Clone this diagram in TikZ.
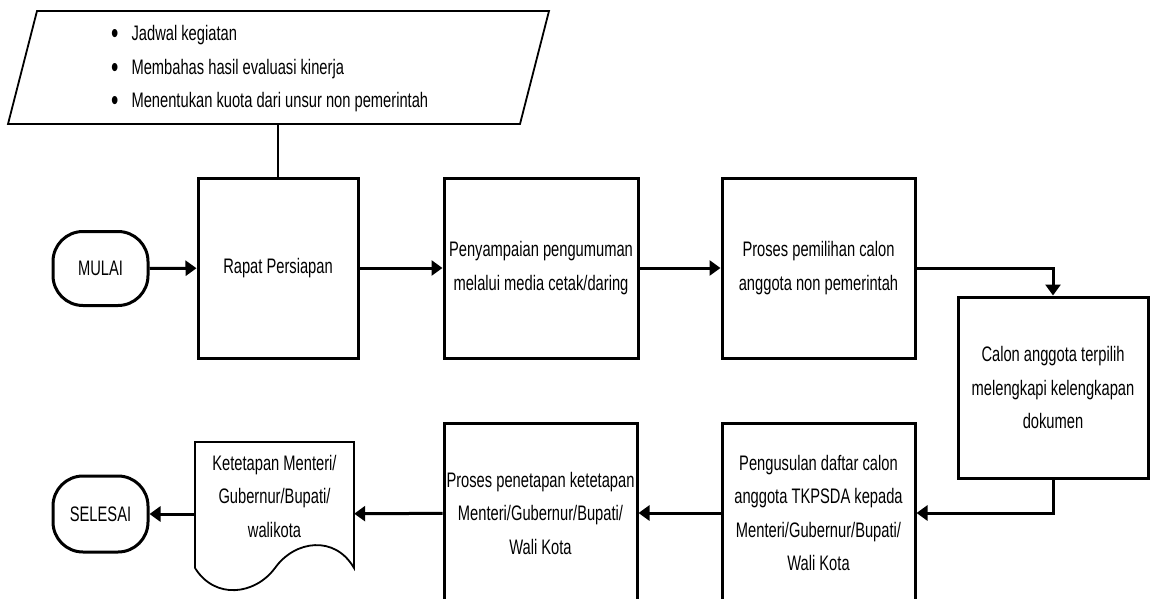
\documentclass[tikz,border=0pt]{standalone}
\usepackage{fontspec}
\setmainfont{Liberation Sans}[FakeStretch=0.7]
\usetikzlibrary{arrows.meta}
\newcommand{\butir}{\raisebox{-3pt}{\fontsize{30}{30}\selectfont\textbullet}}

\begin{document}
\begin{tikzpicture}[x=1pt, y=-1pt, line join=miter, >={Triangle[length=11pt,width=15pt]},
	font=\fontsize{21}{33.5}\selectfont,
	proses/.style={draw, line width=3pt, minimum width=#1pt, minimum height=180pt, align=center, inner sep=0pt},
	proses/.default=193,
	terminal/.style={draw, line width=3pt, rounded corners=30pt, minimum width=95pt, minimum height=74pt, inner sep=0pt},
	alur/.style={->, line width=3pt},
	tipis/.style={line width=1.8pt}]
			\useasboundingbox (0,0) rectangle (1150,599);
			% data masukan
			\draw[tipis] (8,124) -- (37,11) -- (549,11) -- (520,124) -- cycle;
			\node[minimum width=512pt, minimum height=113pt, inner sep=0pt] (agenda) at (278.5,67.5) {};
			\node[anchor=west, inner sep=0pt] (agendaisi) at (111,67.5) {\begin{tabular}{@{}l@{\hspace{13pt}}l@{}}
				\butir & Jadwal kegiatan\\
				\butir & Membahas hasil evaluasi kinerja\\
				\butir & Menentukan kuota dari unsur non pemerintah
			\end{tabular}};
			% baris atas
			\node[terminal] (mulai) at (100.5,268.5) {MULAI};
			\node[proses=160] (rapat) at (278,268) {Rapat Persiapan};
			\node[proses=194] (umum) at (541,268) {Penyampaian pengumuman\\melalui media cetak/daring};
			\node[proses] (pilih) at (818.5,268) {Proses pemilihan calon\\anggota non pemerintah};
			\node[proses=190, minimum height=181pt] (lengkap) at (1053,387.5) {Calon anggota terpilih\\melengkapi kelengkapan\\dokumen};
			% baris bawah
			\node[proses] (usul) at (818.5,513) {Pengusulan daftar calon\\anggota TKPSDA kepada\\Menteri/Gubernur/Bupati/\\Wali Kota};
			\node[proses] (tetap) at (540.5,513) {Proses penetapan ketetapan\\Menteri/Gubernur/Bupati/\\Wali Kota};
			\draw[tipis] (195,568) -- (195,442) -- (354,442) -- (354,568)
				.. controls (335,535) and (295,540) .. (275,568)
				.. controls (255,595) and (215,600) .. (195,568);
			\node[minimum width=159pt, minimum height=144pt, inner sep=0pt] (sk) at (274.5,514) {};
			\node[align=center, inner sep=0pt] (skisi) at ([yshift=18pt]sk.center) {Ketetapan Menteri/\\Gubernur/Bupati/\\walikota};
			\node[terminal, minimum height=76pt] (selesai) at (100.5,514) {SELESAI};
			% penghubung
			\draw[tipis] (agenda.south -| rapat.north) -- (rapat.north);
			\draw[alur] (mulai) -- (rapat);
			\draw[alur] (rapat) -- (umum);
			\draw[alur] (umum) -- (pilih);
			\draw[alur] (pilih.east) -| (lengkap.north);
			\draw[alur] (lengkap.south) |- (usul.east);
			\draw[alur] (usul) -- (tetap);
			\draw[alur] (tetap) -- (sk);
			\draw[alur] (sk.west |- selesai.east) -- (selesai.east);
\end{tikzpicture}
\end{document}
